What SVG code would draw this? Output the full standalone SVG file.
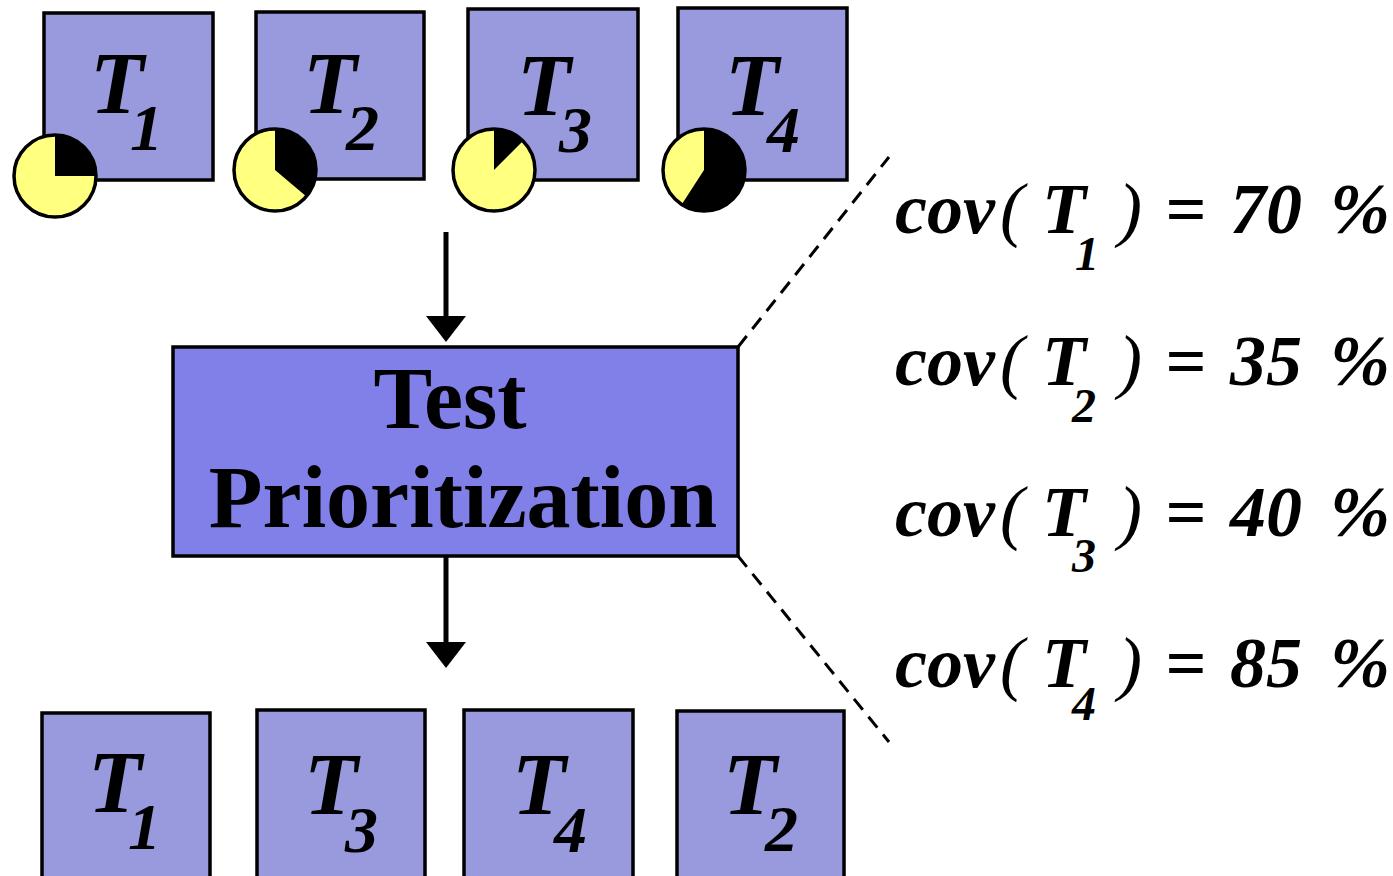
<svg xmlns="http://www.w3.org/2000/svg" width="1393" height="876" viewBox="0 0 1393 876">
<defs>
<style>
.box{fill:#9999de;stroke:#000;stroke-width:3.5}
.mid{fill:#8080e8;stroke:#000;stroke-width:3.5}
.pie{fill:#ffff80;stroke:none}
.ring{fill:none;stroke:#000;stroke-width:3.5}
.wedge{fill:#000}
.T{font-family:"Liberation Serif","Times New Roman",serif;font-style:italic;font-weight:bold;font-size:88px;fill:#000}
.sub{font-size:66px}
.cov{font-family:"Liberation Serif","Times New Roman",serif;font-style:italic;font-weight:bold;font-size:72px;fill:#000}
.par{font-weight:normal}
.csub{font-size:48px}
.mt{font-family:"Liberation Serif","Times New Roman",serif;font-weight:bold;font-size:88px;fill:#000;text-anchor:middle}
.conn{stroke:#000;stroke-width:5;fill:none}
.dash{stroke:#000;stroke-width:3;fill:none;stroke-dasharray:14 9}
</style>
</defs>
<rect width="1393" height="876" fill="#fff"/>

<g id="connectors">
<line class="conn" x1="446" y1="232" x2="446" y2="316"/>
<path d="M426,316 L466,316 L446,342 Z" fill="#000"/>
<line class="conn" x1="446" y1="556" x2="446" y2="642"/>
<path d="M426,642 L466,642 L446,668 Z" fill="#000"/>
<line class="dash" x1="738" y1="347" x2="889" y2="157"/>
<line class="dash" x1="738" y1="556" x2="889" y2="742"/>
</g>

<g id="t1-top">
<rect class="box" x="44" y="13" width="169" height="167"/>
<text class="T" x="90" y="113">T<tspan class="sub" x="130" y="150">1</tspan></text>
<circle class="pie" cx="55" cy="176" r="41"/>
<path class="wedge" d="M55,176 L55,135 A41,41 0 0 1 96,176 Z"/>
<circle class="ring" cx="55" cy="176" r="41"/>
</g>
<g id="t2-top">
<rect class="box" x="256" y="12" width="168" height="167"/>
<text class="T" x="303" y="113">T<tspan class="sub" x="346" y="150">2</tspan></text>
<circle class="pie" cx="275" cy="170" r="41"/>
<path class="wedge" d="M275,170 L275,129 A41,41 0 0 1 306.4,196.4 Z"/>
<circle class="ring" cx="275" cy="170" r="41"/>
</g>
<g id="t3-top">
<rect class="box" x="468" y="9" width="170" height="171"/>
<text class="T" x="517" y="115">T<tspan class="sub" x="559" y="152">3</tspan></text>
<circle class="pie" cx="494" cy="170" r="41"/>
<path class="wedge" d="M494,170 L494,129 A41,41 0 0 1 523,141 Z"/>
<circle class="ring" cx="494" cy="170" r="41"/>
</g>
<g id="t4-top">
<rect class="box" x="678" y="8" width="169" height="172"/>
<text class="T" x="725" y="115">T<tspan class="sub" x="767" y="152">4</tspan></text>
<circle class="pie" cx="704" cy="170" r="41"/>
<path class="wedge" d="M704,170 L704,129 A41,41 0 1 1 681.7,204.4 Z"/>
<circle class="ring" cx="704" cy="170" r="41"/>
</g>

<g id="prioritization">
<rect class="mid" x="173" y="347" width="565" height="209"/>
<text class="mt" x="450" y="428">Test</text>
<text class="mt" x="463" y="527">Prioritization</text>
</g>

<g id="t1-bottom">
<rect class="box" x="42" y="713" width="168" height="170"/>
<text class="T" x="88" y="812">T<tspan class="sub" x="128" y="849">1</tspan></text>
</g>
<g id="t3-bottom">
<rect class="box" x="257" y="710" width="168" height="175"/>
<text class="T" x="304" y="814">T<tspan class="sub" x="345" y="852">3</tspan></text>
</g>
<g id="t4-bottom">
<rect class="box" x="464" y="710" width="169" height="175"/>
<text class="T" x="512" y="814">T<tspan class="sub" x="554" y="852">4</tspan></text>
</g>
<g id="t2-bottom">
<rect class="box" x="677" y="711" width="167" height="175"/>
<text class="T" x="723" y="814">T<tspan class="sub" x="765" y="851">2</tspan></text>
</g>

<g id="cov-list">
<text class="cov" y="233"><tspan x="895">cov</tspan><tspan class="par" x="1000">(</tspan><tspan x="1042">T</tspan><tspan class="csub" x="1075" y="270">1</tspan><tspan class="par" x="1118" y="233">)</tspan><tspan x="1165">=</tspan><tspan x="1230">70</tspan><tspan x="1330">%</tspan></text>
<text class="cov" y="385"><tspan x="895">cov</tspan><tspan class="par" x="1000">(</tspan><tspan x="1042">T</tspan><tspan class="csub" x="1072" y="422">2</tspan><tspan class="par" x="1118" y="385">)</tspan><tspan x="1165">=</tspan><tspan x="1230">35</tspan><tspan x="1330">%</tspan></text>
<text class="cov" y="536"><tspan x="895">cov</tspan><tspan class="par" x="1000">(</tspan><tspan x="1042">T</tspan><tspan class="csub" x="1072" y="572">3</tspan><tspan class="par" x="1118" y="536">)</tspan><tspan x="1165">=</tspan><tspan x="1230">40</tspan><tspan x="1330">%</tspan></text>
<text class="cov" y="687"><tspan x="895">cov</tspan><tspan class="par" x="1000">(</tspan><tspan x="1042">T</tspan><tspan class="csub" x="1072" y="720">4</tspan><tspan class="par" x="1118" y="687">)</tspan><tspan x="1165">=</tspan><tspan x="1230">85</tspan><tspan x="1330">%</tspan></text>
</g>
</svg>
